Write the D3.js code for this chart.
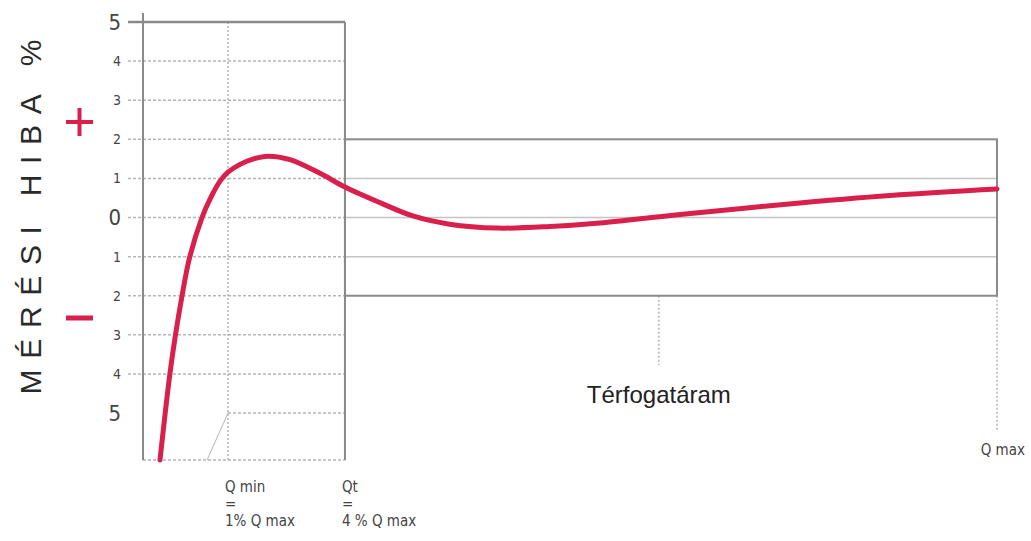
<!DOCTYPE html>
<html>
<head>
<meta charset="utf-8">
<script src="https://cdn.jsdelivr.net/npm/d3@7"></script>
<style>
  body { margin: 0; background: #fff; }
  svg { display: block; }
</style>
</head>
<body>
<div id="chart"></div>
<script>
// error axis ticks (percent), signs shown by the red + / - markers
const errorTicks = [5, 4, 3, 2, 1, 0, -1, -2, -3, -4, -5]
const tickLabels = ["5", "4", "3", "2", "1", "0", "1", "2", "3", "4", "5"]
const bigTicks = [5, 0, -5]

// curve: position along the flow axis (0 = start, 100 = Q max) and error %
const flowPos = [1.99, 3.10, 3.75, 4.51, 5.44, 6.91, 7.96, 9.02, 9.95, 11.36, 12.76, 14.64, 17.21, 20.73, 23.65, 27.75, 31.6, 35.9, 41.45, 47.66, 53.5, 62.9, 76.9, 88.6, 100]
const errorPct = [-6.2, -4.08, -3.08, -2.08, -1.04, 0.0, 0.52, 0.93, 1.16, 1.36, 1.49, 1.57, 1.48, 1.13, 0.78, 0.38, 0.04, -0.17, -0.27, -0.23, -0.14, 0.08, 0.37, 0.58, 0.73]

// flow markers
const qMin = 9.95
const qT = 23.65
const qMax = 100
const flowMark = 60.4
const bandLimit = 2

const width = 1031
const height = 541

const svg = d3.select("#chart").append("svg")
  .attr("width", width)
  .attr("height", height)

const x = d3.scaleLinear().domain([0, 100]).range([143, 997])
const y = d3.scaleLinear().domain([-6.2, 5]).range([460, 22])

const frame = "#8a8a8a"
const grid = "#b5b5b5"
const red = "#d91f4b"
const narrow = "'Liberation Sans Narrow', 'DejaVu Sans Condensed', sans-serif"

// dashed gridlines in the low-flow zone
svg.append("g")
  .selectAll("line")
  .data(errorTicks.filter(d => d < 5 && d > -5))
  .enter()
  .append("line")
  .attr("x1", x(0) - 15)
  .attr("x2", x(qT))
  .attr("y1", d => y(d))
  .attr("y2", d => y(d))
  .attr("stroke", grid)
  .attr("stroke-width", 1.5)
  .attr("stroke-dasharray", "3,2")

// gridlines inside the ±2 band
svg.append("g")
  .selectAll("line")
  .data(errorTicks.filter(d => Math.abs(d) < bandLimit))
  .enter()
  .append("line")
  .attr("x1", x(qT))
  .attr("x2", x(qMax))
  .attr("y1", d => y(d))
  .attr("y2", d => y(d))
  .attr("stroke", "#c4c4c4")
  .attr("stroke-width", 1.5)

// -5 line from Q min and the slanted line
svg.append("line")
  .attr("x1", x(qMin)).attr("x2", x(qT))
  .attr("y1", y(-5)).attr("y2", y(-5))
  .attr("stroke", grid).attr("stroke-width", 1.5).attr("stroke-dasharray", "3,2")
svg.append("line")
  .attr("x1", x(qMin)).attr("x2", x(7.5))
  .attr("y1", y(-5)).attr("y2", y(-6.2))
  .attr("stroke", grid).attr("stroke-width", 1)

// bottom dashed line
svg.append("line")
  .attr("x1", x(0)).attr("x2", x(qT))
  .attr("y1", y(-6.2)).attr("y2", y(-6.2))
  .attr("stroke", grid).attr("stroke-width", 1.5).attr("stroke-dasharray", "3,2")

// Q min dotted line
svg.append("line")
  .attr("x1", x(qMin)).attr("x2", x(qMin))
  .attr("y1", y(5)).attr("y2", y(-6.2) + 2)
  .attr("stroke", grid).attr("stroke-width", 1.5).attr("stroke-dasharray", "2,2")

// Q max and flow label pointers
svg.append("line")
  .attr("x1", x(qMax)).attr("x2", x(qMax))
  .attr("y1", y(-bandLimit)).attr("y2", 430)
  .attr("stroke", grid).attr("stroke-width", 1.5).attr("stroke-dasharray", "2,2")
svg.append("line")
  .attr("x1", x(flowMark)).attr("x2", x(flowMark))
  .attr("y1", y(-bandLimit)).attr("y2", 365)
  .attr("stroke", grid).attr("stroke-width", 1.5).attr("stroke-dasharray", "2,2")

// frames
svg.append("line")
  .attr("x1", x(0)).attr("x2", x(0))
  .attr("y1", y(5) - 9).attr("y2", y(-6.2))
  .attr("stroke", frame).attr("stroke-width", 2)
svg.append("line")
  .attr("x1", x(0) - 15).attr("x2", x(qT))
  .attr("y1", y(5)).attr("y2", y(5))
  .attr("stroke", frame).attr("stroke-width", 2.5)
svg.append("line")
  .attr("x1", x(qT)).attr("x2", x(qT))
  .attr("y1", y(5)).attr("y2", y(-6.2))
  .attr("stroke", frame).attr("stroke-width", 2)
svg.append("rect")
  .attr("x", x(qT))
  .attr("y", y(bandLimit))
  .attr("width", x(qMax) - x(qT))
  .attr("height", y(-bandLimit) - y(bandLimit))
  .attr("fill", "none")
  .attr("stroke", frame)
  .attr("stroke-width", 2)

// tick labels
svg.append("g")
  .selectAll("text")
  .data(errorTicks)
  .enter()
  .append("text")
  .attr("x", 121)
  .attr("y", d => y(d))
  .attr("dy", "0.35em")
  .attr("text-anchor", "end")
  .attr("font-family", narrow)
  .attr("font-stretch", "condensed")
  .attr("font-size", d => bigTicks.includes(d) ? 22 : 14)
  .attr("fill", "#444")
  .text((d, i) => tickLabels[i])

// the error curve
const line = d3.line()
  .x((d, i) => x(flowPos[i]))
  .y(d => y(d))
  .curve(d3.curveCatmullRom.alpha(0.5))

svg.append("path")
  .datum(errorPct)
  .attr("d", line)
  .attr("fill", "none")
  .attr("stroke", red)
  .attr("stroke-width", 5)
  .attr("stroke-linecap", "round")

// + and - signs
svg.append("line")
  .attr("x1", 66).attr("x2", 93).attr("y1", 122).attr("y2", 122)
  .attr("stroke", red).attr("stroke-width", 4)
svg.append("line")
  .attr("x1", 79.5).attr("x2", 79.5).attr("y1", 108).attr("y2", 136)
  .attr("stroke", red).attr("stroke-width", 4)
svg.append("line")
  .attr("x1", 66).attr("x2", 93).attr("y1", 318).attr("y2", 318)
  .attr("stroke", red).attr("stroke-width", 5)

// axis title
svg.append("text")
  .attr("transform", "translate(41,217) rotate(-90)")
  .attr("text-anchor", "middle")
  .attr("font-family", "'Liberation Sans', Arial, sans-serif")
  .attr("font-size", 30)
  .attr("fill", "#2a2a2a")
  .attr("textLength", 355)
  .attr("lengthAdjust", "spacing")
  .text("MÉRÉSI HIBA %")

svg.append("text")
  .attr("x", x(flowMark))
  .attr("y", 403)
  .attr("text-anchor", "middle")
  .attr("font-family", "'Liberation Sans', Arial, sans-serif")
  .attr("font-size", 24)
  .attr("fill", "#222")
  .text("Térfogatáram")

// flow labels
const flowLabels = [
  { pos: qMin, lines: ["Q min", "=", "1% Q max"] },
  { pos: qT, lines: ["Qt", "=", "4 % Q max"] }
]
flowLabels.forEach(f => {
  f.lines.forEach((t, i) => {
    svg.append("text")
      .attr("x", x(f.pos) - 3)
      .attr("y", 492 + i * 17)
      .attr("font-family", narrow)
      .attr("font-stretch", "condensed")
      .attr("font-size", 15)
      .attr("fill", "#444")
      .text(t)
  })
})
svg.append("text")
  .attr("x", x(qMax) + 28)
  .attr("y", 455)
  .attr("text-anchor", "end")
  .attr("font-family", narrow)
  .attr("font-stretch", "condensed")
  .attr("font-size", 15)
  .attr("fill", "#444")
  .text("Q max")
</script>
</body>
</html>
